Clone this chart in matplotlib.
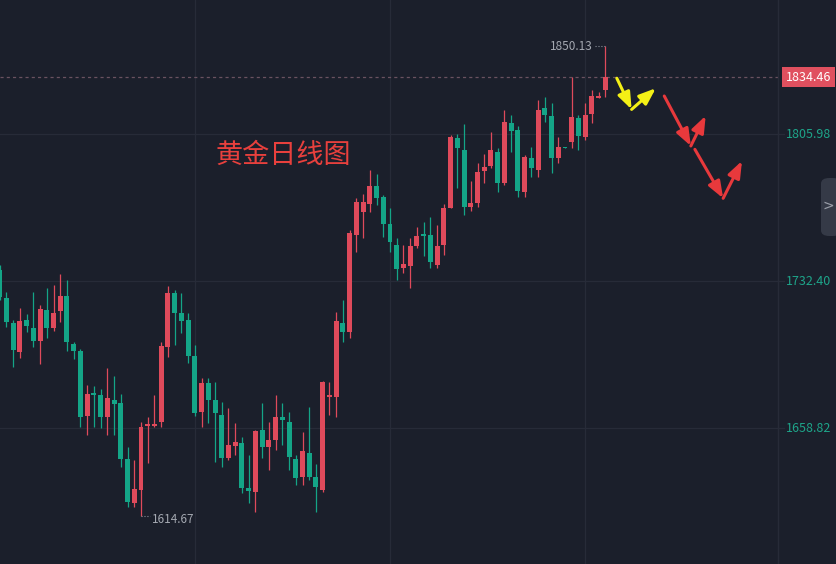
import numpy as np
import matplotlib
matplotlib.use("Agg")
import matplotlib.pyplot as plt
from matplotlib.patches import FancyBboxPatch

plt.rcParams['font.family'] = ['Noto Sans CJK SC', 'DejaVu Sans']

# 日线 OHLC
opens = [1738, 1724, 1711.5, 1697, 1713, 1709, 1702.5, 1718, 1709, 1717.5,
         1725, 1701, 1697.5, 1665, 1676, 1675.5, 1664.5, 1673, 1671.5, 1643.5,
         1621.5, 1628, 1660, 1660, 1662, 1699.5, 1726.5, 1716.5, 1713, 1695,
         1667, 1681.5, 1673, 1665.5, 1644, 1650, 1651.5, 1629, 1627, 1658,
         1649.5, 1653, 1664.5, 1662, 1643.5, 1634.5, 1646.5, 1634.5, 1628, 1674.5,
         1674.5, 1711.5, 1707, 1755.5, 1767, 1771, 1780, 1774.5, 1761, 1750.5,
         1739, 1740, 1750, 1755.5, 1755.5, 1740.5, 1750.5, 1769, 1804, 1798,
         1769.5, 1771.5, 1787.5, 1790, 1797, 1781.5, 1811.5, 1808, 1777, 1794,
         1788, 1819, 1815, 1794, 1799, 1802, 1814, 1804.5, 1816, 1824, 1828]
closes = [1724.5, 1712, 1698, 1712.5, 1710, 1702.5, 1718.5, 1709, 1716.5, 1725,
          1702, 1697.5, 1664.5, 1676, 1675.5, 1664.5, 1674, 1671, 1643.5, 1622,
          1628.5, 1659.5, 1660.5, 1661, 1700, 1726.5, 1716.5, 1712.5, 1695, 1666.5,
          1681.5, 1673, 1666.5, 1644, 1650.5, 1652, 1629, 1627.5, 1657.5, 1649.5,
          1653, 1664.5, 1663, 1644.5, 1634, 1647.5, 1634.5, 1629.5, 1682, 1675.5,
          1712.5, 1707, 1756.5, 1772, 1772, 1780, 1774, 1761, 1752, 1738.5,
          1741, 1750, 1755, 1755, 1742, 1750, 1769, 1804.5, 1799, 1769.5,
          1771.5, 1787, 1789.5, 1798, 1781.5, 1812, 1807.5, 1777.5, 1794.5, 1789,
          1818, 1815.5, 1794, 1799.5, 1798.8, 1814.5, 1805, 1815.5, 1825, 1825, 1834.46]
highs = [1740.5, 1727, 1713, 1719, 1716, 1727, 1720.5, 1729, 1730.5, 1736,
         1733, 1702, 1698.5, 1680.5, 1680, 1678.5, 1689, 1685, 1676, 1649.5,
         1643, 1662, 1664.5, 1675.5, 1702, 1730, 1728, 1726.5, 1716.5, 1700.5,
         1684, 1684, 1682, 1672, 1669, 1661.5, 1654.5, 1645.5, 1658, 1671.5,
         1662, 1675.5, 1671.5, 1667, 1645.5, 1657, 1669.5, 1641, 1682.5, 1682,
         1717, 1723, 1758, 1774, 1776, 1788, 1786, 1775.5, 1769, 1754,
         1750.5, 1754, 1759.5, 1762, 1764.5, 1760.5, 1771, 1805.5, 1806, 1811,
         1782.5, 1791.5, 1796, 1807, 1799, 1818, 1815.5, 1810, 1795.5, 1799.5,
         1823, 1824.5, 1821.5, 1804.5, 1799.3, 1834.5, 1815.5, 1821.5, 1828, 1827, 1850.13]
lows = [1723, 1709.5, 1689.5, 1694, 1707, 1699.5, 1691, 1704, 1707.5, 1712,
        1697.5, 1693.5, 1659.5, 1655.5, 1659.5, 1659, 1655.5, 1655.5, 1639.5, 1619.5,
        1619.5, 1614.67, 1641.5, 1659.5, 1659.5, 1694.5, 1700.5, 1706.5, 1691.5, 1665,
        1659.5, 1661.5, 1642, 1639.5, 1643, 1645.5, 1626.5, 1621.5, 1617, 1644,
        1638, 1648, 1650.5, 1638, 1630.5, 1630.5, 1633, 1617, 1627, 1665.5,
        1664.5, 1702, 1704, 1747, 1754, 1767, 1770.5, 1754.5, 1747, 1733,
        1736.5, 1729, 1749, 1745, 1739, 1739, 1745.5, 1769, 1779, 1765.5,
        1767.5, 1769.5, 1781.5, 1789, 1777, 1780.5, 1797, 1774.5, 1774.5, 1784.5,
        1784.5, 1812, 1786.5, 1791.5, 1798.8, 1799, 1798, 1803, 1811.5, 1824, 1824.5]

grid_prices = [1658.82, 1732.40, 1805.98]
grid_idx = [29, 58, 87]
last_price = 1834.46
hi_price, hi_idx = 1850.13, 90
lo_price, lo_idx = 1614.67, 21
title = "黄金日线图"

# 手画箭头 (K线序号, 价格)
yellow_path = [(91.7, 1833.9), (93.9, 1818.3), (97.5, 1828.9)]
red_path1 = [(98.75, 1825.0), (102.7, 1800.0), (104.9, 1815.1)]
red_path2 = [(103.3, 1798.3), (107.5, 1773.8), (110.3, 1792.5)]

BG = '#1b1f2b'
GRID = '#272b38'
UP = '#df4a5b'
DOWN = '#14a587'

fig = plt.figure(figsize=(8.36, 5.64), dpi=100, facecolor=BG)
ax = fig.add_axes([0, 0, 778 / 836, 1])
ax.set_facecolor(BG)

o = np.array(opens)
c = np.array(closes)
h = np.array(highs)
l = np.array(lows)
x = np.arange(len(o))
up = c >= o
colors = np.where(up, UP, DOWN)

for gp in grid_prices:
    ax.axhline(gp, color=GRID, lw=0.9, zorder=0)
for gi in grid_idx:
    ax.axvline(gi, color=GRID, lw=0.9, zorder=0)

ax.vlines(x, l, h, colors=colors, lw=0.9, zorder=2)
body_bot = np.minimum(o, c)
body_h = np.maximum(np.abs(c - o), 0.8)
ax.bar(x, body_h, bottom=body_bot, width=0.74, color=colors, lw=0, zorder=3)

ax.axhline(last_price, color='#6a5260', lw=0.9, ls=(0, (2.5, 2.5)), zorder=1)

ax.set_xlim(0.05, 115.65)
ax.set_ylim(1590.77, 1873.05)
ax.axis('off')

# 最高 / 最低标注
ax.plot([hi_idx - 1.6, hi_idx], [hi_price, hi_price], color='#8a8f99', lw=0.8, ls=':')
ax.text(hi_idx - 1.9, hi_price - 0.3, f"{hi_price:.2f}", color='#a4a8b1', fontsize=8.5,
        ha='right', va='center')
ax.plot([lo_idx, lo_idx + 1.3], [lo_price, lo_price], color='#8a8f99', lw=0.8, ls=':')
ax.text(lo_idx + 1.6, lo_price - 1.6, f"{lo_price:.2f}", color='#a4a8b1', fontsize=8.5,
        ha='left', va='center')

ax.text(32.0, 1795.5, title, color='#e8403d', fontsize=19.5, ha='left', va='center')

for path, col in [(yellow_path, '#f4f016'), (red_path1, '#e8393c'), (red_path2, '#e8393c')]:
    for a, b in zip(path[:-1], path[1:]):
        ax.annotate('', xy=b, xytext=a,
                    arrowprops=dict(arrowstyle='-|>,head_length=1.0,head_width=0.38',
                                    color=col, lw=2.2, shrinkA=0, shrinkB=0))

# 右侧价格轴
ytf = ax.get_yaxis_transform()
ax.plot([1, 1], [0, 1], transform=ax.transAxes, color=GRID, lw=1, clip_on=False)
for gp in grid_prices:
    ax.plot([1, 1.008], [gp, gp], transform=ytf, color=GRID, lw=0.9, clip_on=False)
    ax.text(1.0105, gp, f"{gp:.2f}", transform=ytf, color='#1ea58a',
            fontsize=9, ha='left', va='center', clip_on=False)
ax.text(1.0105, last_price, f"{last_price:.2f}", transform=ytf,
        color='white', fontsize=9, ha='left', va='center', clip_on=False,
        bbox=dict(boxstyle='square,pad=0.3', fc='#e0505f', ec='none'))

tab = FancyBboxPatch((821 / 836, 1 - 236 / 564), 20 / 836, 58 / 564,
                     boxstyle='round,pad=0,rounding_size=0.01',
                     transform=fig.transFigure, fc='#353a47', ec='none')
fig.patches.append(tab)
fig.text(828 / 836, 1 - 206 / 564, '>', color='#9ca0aa', fontsize=10,
         ha='center', va='center', family='DejaVu Sans')

fig.savefig('out.png', dpi=100, facecolor=BG)
